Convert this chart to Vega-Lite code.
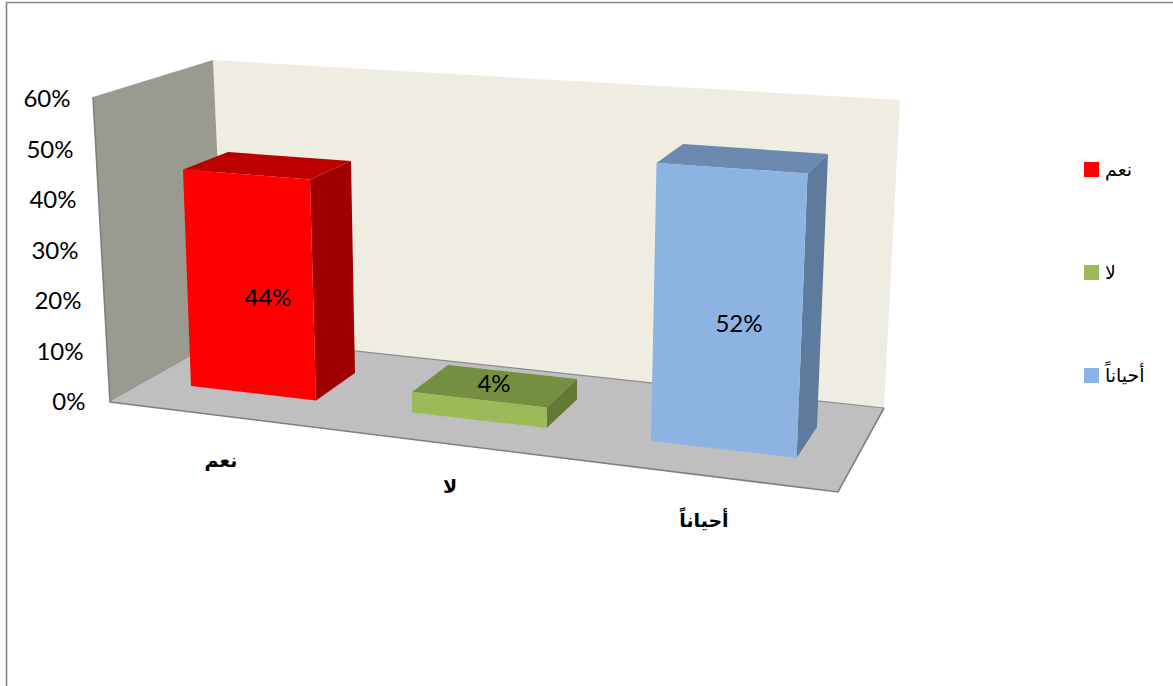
{
"$schema":"https://vega.github.io/schema/vega-lite/v6.json",
"width":806,"height":432,
"autosize":{"type":"none"},
"padding":{"left":94,"top":60,"right":273,"bottom":194},
"background":"white",
"config":{"view":{"stroke":null}},
"data":{"values":[{"answer":"نعم","share":0.44},{"answer":"لا","share":0.04},{"answer":"أحياناً","share":0.52}]},
"encoding":{"x":{"field":"answer","type":"nominal","sort":null,"axis":null,"scale":{"type":"band","domain":["نعم","لا","أحياناً"],"paddingInner":0,"paddingOuter":0.197,"align":0.318}}},
"resolve":{"scale":{"y":"independent"},"axis":{"y":"independent"}},
"layer":[
{"transform":[{"filter":"datum.answer==='نعم'"}],
 "encoding":{"y":{"datum":0,"type":"quantitative","scale":{"domain":[-0.1802,0.6752],"nice":false,"zero":false},"axis":{"values":[0,0.1,0.2,0.3,0.4,0.5,0.6],"format":".0%","title":null,"grid":false,"domain":false,"ticks":false,"labelFont":"Lato","labelFontSize":24,"labelColor":"#000000","labelOffset":2,"labelPadding":{"condition":[{"test":"datum.value>0.55","value":24},{"test":"datum.value>0.45","value":21},{"test":"datum.value>0.35","value":18},{"test":"datum.value>0.25","value":16},{"test":"datum.value>0.15","value":13},{"test":"datum.value>0.05","value":11}],"value":9}}}},
 "layer":[
 {"mark":{"type":"point","shape":"M-29.5,-341L657.5,-301L641.5,7L-17,-64Z","size":4,"filled":true,"fill":"#EFEDE2","strokeWidth":0,"opacity":1}},
 {"mark":{"type":"point","shape":"M-149.5,-304L-29.5,-341L-17,-64L-132.5,1Z","size":4,"filled":true,"fill":"#9B9A91","strokeWidth":0,"opacity":1}},
 {"mark":{"type":"point","shape":"M-132.5,1L-17,-64L641.5,7L595.5,91Z","size":4,"filled":true,"fill":"#BFBFBF","strokeWidth":0,"opacity":1}},
 {"mark":{"type":"point","shape":"M-17,-64L641.5,7","size":4,"filled":false,"stroke":"#8C8C8C","strokeWidth":1.2,"opacity":1}},
 {"mark":{"type":"point","shape":"M-149.5,-304L-132.5,1L595.5,91L641.5,7","size":4,"filled":false,"stroke":"#7F7F7F","strokeWidth":1.6,"opacity":1}},
 {"mark":{"type":"point","shape":"M-236,285L-236,-398.5L930.5,-398.5","size":4,"filled":false,"stroke":"#868686","strokeWidth":1.6,"opacity":1}}
 ]},
{"transform":[{"filter":"datum.answer==='نعم'"}],
 "encoding":{"y":{"field":"share","type":"quantitative","axis":null,"scale":{"domain":[-0.2265,0.69658],"nice":false,"zero":false}}},
 "layer":[
 {"mark":{"type":"point","shape":"M67.5,-0.58L108.5,-19.08L112.5,192.92L73.5,220.42Z","size":4,"filled":true,"fill":"#A10000","strokeWidth":0,"opacity":1}},
 {"mark":{"type":"point","shape":"M-59.5,-10.58L67.5,-0.58L108.5,-19.08L-14.5,-28.08Z","size":4,"filled":true,"fill":"#BD0000","strokeWidth":0,"opacity":1}},
 {"mark":{"type":"point","shape":"M-59.5,-10.58L67.5,-0.58L73.5,220.42L-51.5,205.92Z","size":4,"filled":true,"fill":"#FF0000","strokeWidth":0,"opacity":1}},
 {"mark":{"type":"bar","width":119,"xOffset":8},"encoding":{"color":{"field":"answer","type":"nominal","scale":{"domain":["نعم","لا","أحياناً"],"range":["#FF0000","#9BBB59","#8DB3E2"]},"legend":{"title":null,"orient":"none","legendX":988,"legendY":100,"padding":0,"symbolType":"square","symbolSize":225,"symbolOpacity":1,"symbolStrokeWidth":0,"labelOffset":4,"labelFont":"DejaVu Sans","labelFontSize":19,"labelColor":"#000000","labelLimit":200,"rowPadding":83}}}},
 {"mark":{"type":"text","font":"Lato","fontSize":24,"color":"#000000","dx":25.5,"dy":118.5,"baseline":"middle"},"encoding":{"text":{"field":"share","type":"quantitative","format":".0%"}}},
 {"mark":{"type":"text","font":"DejaVu Sans","fontWeight":"bold","fontSize":19,"color":"#000000","dx":-21.5,"dy":281,"baseline":"middle"},"encoding":{"text":{"field":"answer"}}}
 ]},
{"transform":[{"filter":"datum.answer==='لا'"}],
 "encoding":{"y":{"field":"share","type":"quantitative","axis":null,"scale":{"domain":[-0.15492,0.76816],"nice":false,"zero":false}}},
 "layer":[
 {"mark":{"type":"point","shape":"M66.73,6.72L97.03,-21.78L97.03,-1.28L66.73,27.22Z","size":4,"filled":true,"fill":"#637A35","strokeWidth":0,"opacity":1}},
 {"mark":{"type":"point","shape":"M-67.97,-8.78L66.73,6.72L97.03,-21.78L-31.97,-35.78Z","size":4,"filled":true,"fill":"#748F3F","strokeWidth":0,"opacity":1}},
 {"mark":{"type":"point","shape":"M-67.97,-8.78L66.73,6.72L66.73,27.22L-67.97,11.72Z","size":4,"filled":true,"fill":"#9BBB59","strokeWidth":0,"opacity":1}},
 {"mark":{"type":"bar","width":12},"encoding":{"color":{"field":"answer","type":"nominal","legend":null}}},
 {"mark":{"type":"text","font":"Lato","fontSize":24,"color":"#000000","dx":14,"dy":-15.8,"baseline":"middle"},"encoding":{"text":{"field":"share","type":"quantitative","format":".0%"}}},
 {"mark":{"type":"text","font":"DejaVu Sans","fontWeight":"bold","fontSize":19,"color":"#000000","dx":-30,"dy":86.2,"baseline":"middle"},"encoding":{"text":{"field":"answer"}}}
 ]},
{"transform":[{"filter":"datum.answer==='أحياناً'"}],
 "encoding":{"y":{"field":"share","type":"quantitative","axis":null,"scale":{"domain":[-0.10898,0.8141],"nice":false,"zero":false}}},
 "layer":[
 {"mark":{"type":"point","shape":"M90.05,-24.14L110.55,-43.64L99.55,229.36L79.25,260.06Z","size":4,"filled":true,"fill":"#5E7A9C","strokeWidth":0,"opacity":1}},
 {"mark":{"type":"point","shape":"M-60.95,-34.64L90.05,-24.14L110.55,-43.64L-34.45,-53.64Z","size":4,"filled":true,"fill":"#6C89B0","strokeWidth":0,"opacity":1}},
 {"mark":{"type":"point","shape":"M-60.95,-34.64L90.05,-24.14L79.25,260.06L-66.45,243.36Z","size":4,"filled":true,"fill":"#8DB3E2","strokeWidth":0,"opacity":1}},
 {"mark":{"type":"bar","width":140,"xOffset":9.15},"encoding":{"color":{"field":"answer","type":"nominal","legend":null}}},
 {"mark":{"type":"text","font":"Lato","fontSize":24,"color":"#000000","dx":21.5,"dy":127,"baseline":"middle"},"encoding":{"text":{"field":"share","type":"quantitative","format":".0%"}}},
 {"mark":{"type":"text","font":"DejaVu Sans","fontWeight":"bold","fontSize":19,"color":"#000000","dx":-13.5,"dy":323.4,"baseline":"middle"},"encoding":{"text":{"field":"answer"}}}
 ]}
]
}
